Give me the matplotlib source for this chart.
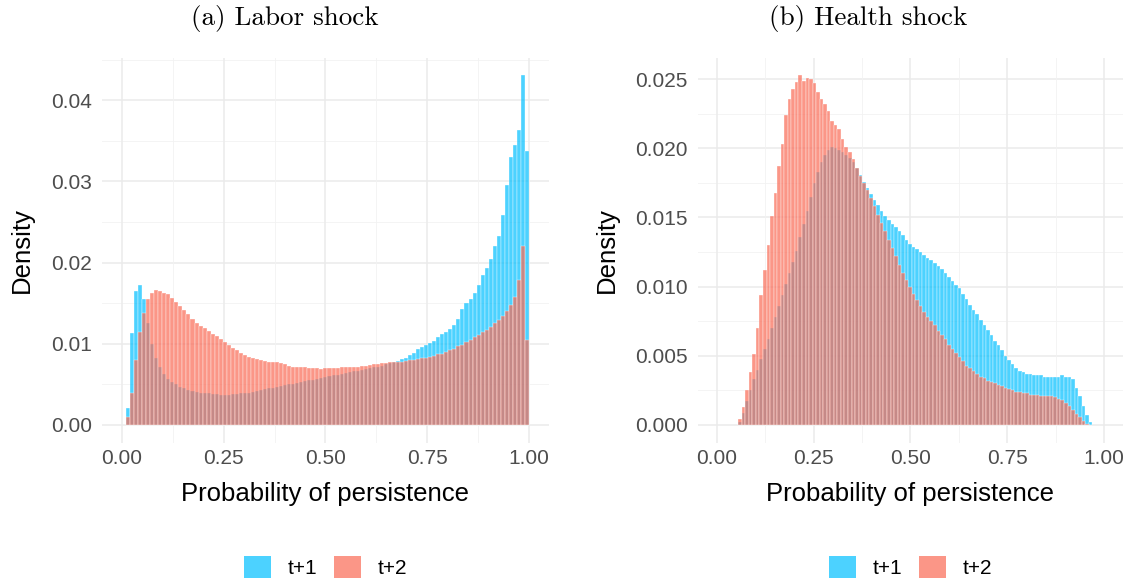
import numpy as np
import matplotlib.pyplot as plt
from matplotlib.patches import Patch

plt.rcParams['font.family'] = ['Liberation Sans', 'DejaVu Sans']

# labor shock: 100 equal bins on [0.01, 1.00], share of observations per bin
labor_range = (0.01, 1.00)
labor_t1 = [0.0021, 0.0113, 0.0165, 0.0173, 0.0155, 0.0125, 0.0100, 0.0083, 0.0071, 0.0063,
            0.0057, 0.0053, 0.0050, 0.0047, 0.0045, 0.0043, 0.0042, 0.0041, 0.0040, 0.0039,
            0.0039, 0.0038, 0.0038, 0.0037, 0.0037, 0.0037, 0.0038, 0.0038, 0.0039, 0.0039,
            0.0040, 0.0041, 0.0042, 0.0043, 0.0044, 0.0045, 0.0046, 0.0047, 0.0048, 0.0049,
            0.0050, 0.0051, 0.0052, 0.0053, 0.0054, 0.0055, 0.0056, 0.0057, 0.0058, 0.0059,
            0.0060, 0.0061, 0.0062, 0.0063, 0.0064, 0.0065, 0.0066, 0.0067, 0.0068, 0.0069,
            0.0070, 0.0071, 0.0072, 0.0073, 0.0075, 0.0076, 0.0077, 0.0079, 0.0081, 0.0083,
            0.0086, 0.0089, 0.0093, 0.0096, 0.0098, 0.0101, 0.0104, 0.0108, 0.0112, 0.0115,
            0.0118, 0.0123, 0.0130, 0.0143, 0.0150, 0.0155, 0.0163, 0.0172, 0.0185, 0.0193,
            0.0205, 0.0220, 0.0233, 0.0258, 0.0295, 0.0330, 0.0345, 0.0363, 0.0431, 0.0338]
labor_t2 = [0.0010, 0.0040, 0.0080, 0.0115, 0.0138, 0.0155, 0.0163, 0.0166, 0.0165, 0.0163,
            0.0161, 0.0156, 0.0151, 0.0146, 0.0141, 0.0137, 0.0131, 0.0126, 0.0122, 0.0119,
            0.0116, 0.0112, 0.0109, 0.0106, 0.0102, 0.0099, 0.0095, 0.0092, 0.0089, 0.0086,
            0.0084, 0.0082, 0.0081, 0.0080, 0.0079, 0.0078, 0.0078, 0.0077, 0.0076, 0.0075,
            0.0073, 0.0072, 0.0072, 0.0071, 0.0071, 0.0070, 0.0070, 0.0070, 0.0069, 0.0070,
            0.0070, 0.0070, 0.0070, 0.0071, 0.0071, 0.0071, 0.0072, 0.0072, 0.0073, 0.0073,
            0.0074, 0.0075, 0.0075, 0.0076, 0.0076, 0.0077, 0.0077, 0.0078, 0.0078, 0.0079,
            0.0080, 0.0080, 0.0081, 0.0082, 0.0083, 0.0084, 0.0085, 0.0087, 0.0088, 0.0090,
            0.0092, 0.0094, 0.0097, 0.0099, 0.0102, 0.0105, 0.0108, 0.0111, 0.0114, 0.0117,
            0.0121, 0.0125, 0.0129, 0.0134, 0.0140, 0.0148, 0.0158, 0.0178, 0.0220, 0.0105]

# health shock: 100 equal bins on [0.055, 0.97]
health_range = (0.055, 0.97)
health_t1 = [0.0002, 0.0009, 0.0017, 0.0025, 0.0033, 0.0040, 0.0048, 0.0055, 0.0062, 0.0070,
             0.0078, 0.0086, 0.0094, 0.0102, 0.0110, 0.0118, 0.0126, 0.0136, 0.0145, 0.0155,
             0.0165, 0.0175, 0.0183, 0.0190, 0.0195, 0.0199, 0.0201, 0.0200, 0.0199, 0.0197,
             0.0195, 0.0193, 0.0190, 0.0186, 0.0181, 0.0176, 0.0171, 0.0167, 0.0163, 0.0159,
             0.0155, 0.0151, 0.0148, 0.0145, 0.0143, 0.0140, 0.0137, 0.0134, 0.0131, 0.0129,
             0.0127, 0.0125, 0.0123, 0.0121, 0.0119, 0.0117, 0.0115, 0.0113, 0.0110, 0.0107,
             0.0104, 0.0101, 0.0099, 0.0095, 0.0091, 0.0087, 0.0083, 0.0080, 0.0076, 0.0072,
             0.0069, 0.0065, 0.0061, 0.0058, 0.0054, 0.0050, 0.0047, 0.0044, 0.0041, 0.0039,
             0.0038, 0.0037, 0.0037, 0.0036, 0.0036, 0.0036, 0.0035, 0.0035, 0.0035, 0.0035,
             0.0035, 0.0036, 0.0035, 0.0035, 0.0033, 0.0027, 0.0021, 0.0014, 0.0007, 0.0002]
health_t2 = [0.0004, 0.0013, 0.0025, 0.0038, 0.0051, 0.0070, 0.0094, 0.0112, 0.0130, 0.0151,
             0.0168, 0.0187, 0.0203, 0.0224, 0.0236, 0.0243, 0.0248, 0.0253, 0.0249, 0.0251,
             0.0250, 0.0247, 0.0241, 0.0236, 0.0232, 0.0227, 0.0220, 0.0217, 0.0214, 0.0207,
             0.0201, 0.0197, 0.0192, 0.0186, 0.0180, 0.0175, 0.0170, 0.0164, 0.0158, 0.0152,
             0.0146, 0.0140, 0.0134, 0.0128, 0.0122, 0.0116, 0.0110, 0.0105, 0.0100, 0.0095,
             0.0090, 0.0086, 0.0082, 0.0078, 0.0075, 0.0072, 0.0068, 0.0065, 0.0062, 0.0058,
             0.0055, 0.0052, 0.0049, 0.0046, 0.0043, 0.0041, 0.0039, 0.0037, 0.0035, 0.0034,
             0.0032, 0.0031, 0.0030, 0.0029, 0.0028, 0.0027, 0.0026, 0.0025, 0.0024, 0.0024,
             0.0023, 0.0023, 0.0022, 0.0022, 0.0022, 0.0021, 0.0021, 0.0021, 0.0021, 0.0020,
             0.0019, 0.0018, 0.0016, 0.0014, 0.0011, 0.0008, 0.0006, 0.0003, 0.0001, 0.0000]

titles = ['(a) Labor shock', '(b) Health shock']
series_labels = ['t+1', 't+2']
y_ticks = [[0.00, 0.01, 0.02, 0.03, 0.04],
           [0.000, 0.005, 0.010, 0.015, 0.020, 0.025]]
y_fmt = ['{:.2f}', '{:.3f}']
x_ticks = [0.00, 0.25, 0.50, 0.75, 1.00]

col_t1 = '#00BFFF'
col_t2 = '#FA6A55'
alpha = 0.7

W, H = 1137, 583
fig = plt.figure(figsize=(W / 100, H / 100), dpi=100)

# panel rectangles in pixels: left, top, width, height; title centre x
rects = [(101.6, 57.5, 447.7, 385.0), (697.6, 57.5, 425.7, 385.0)]
title_x = [285, 868]
panels = [(labor_range, labor_t1, labor_t2), (health_range, health_t1, health_t2)]

for k, (rect, (rng, s1, s2)) in enumerate(zip(rects, panels)):
    l, t, w, h = rect
    ax = fig.add_axes([l / W, 1 - (t + h) / H, w / W, h / H])
    edges = np.linspace(rng[0], rng[1], len(s1) + 1)
    bw = edges[1] - edges[0]
    for vals, c in ((s1, col_t1), (s2, col_t2)):
        ax.bar(edges[:-1], vals, width=bw, align='edge', color=c, alpha=alpha,
               edgecolor=(1, 1, 1, 0.35), linewidth=0.35, zorder=2)

    ymax = max(max(s1), max(s2))
    ax.set_ylim(-0.05 * ymax, 1.05 * ymax)
    ax.set_xlim(-0.05, 1.05)

    # theme_minimal style grid
    yt = y_ticks[k]
    step = yt[1] - yt[0]
    for v in yt:
        ax.axhline(v, color='#EBEBEB', lw=1.1, zorder=0)
    for v in np.arange(yt[0] + step / 2, 1.05 * ymax, step):
        ax.axhline(v, color='#F2F2F2', lw=0.6, zorder=0)
    for v in x_ticks:
        ax.axvline(v, color='#EBEBEB', lw=1.1, zorder=0)
    for v in np.arange(0.125, 1.05, 0.25):
        ax.axvline(v, color='#F2F2F2', lw=0.6, zorder=0)

    ax.set_xticks(x_ticks)
    ax.set_xticklabels(['{:.2f}'.format(v) for v in x_ticks])
    ax.set_yticks(yt)
    ax.set_yticklabels([y_fmt[k].format(v) for v in yt])
    ax.tick_params(length=0, labelsize=15, labelcolor='#4D4D4D')
    ax.tick_params(axis='x', pad=5)
    ax.tick_params(axis='y', pad=7)
    for s in ax.spines.values():
        s.set_visible(False)

    ax.set_xlabel('Probability of persistence', fontsize=18.5, labelpad=10)
    ax.set_ylabel('Density', fontsize=18.5, labelpad=12)
    fig.text(title_x[k] / W, 1 - 18 / H, titles[k], fontsize=19.5, family='cmr10',
             ha='center', va='center')

    handles = [Patch(facecolor=col_t1, alpha=alpha), Patch(facecolor=col_t2, alpha=alpha)]
    fig.legend(handles, series_labels, loc='center', ncol=2, frameon=False,
               bbox_to_anchor=((l + w / 2) / W, 1 - 567 / H), fontsize=15,
               handlelength=1.3, handleheight=1.3, handletextpad=0.8, columnspacing=0.8)

fig.savefig('out.png', dpi=100)
